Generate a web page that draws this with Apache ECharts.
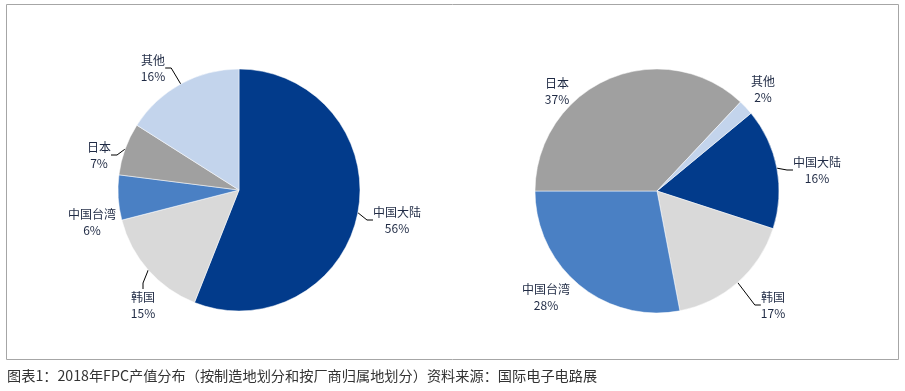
<!DOCTYPE html>
<html>
<head>
<meta charset="utf-8">
<script src="https://cdn.jsdelivr.net/npm/echarts@6/dist/echarts.min.js"></script>
<style>
html,body{margin:0;padding:0;background:#fff;}
#chart{width:905px;height:391px;}
</style>
</head>
<body>
<div id="chart"></div>
<script>
const categories = ['中国大陆', '韩国', '中国台湾', '日本', '其他'];
const byManufacturingSite = [56, 15, 6, 7, 16];
const byVendorOrigin = [16, 17, 28, 37, 2];
const sliceColors = ['#023B8B', '#D9D9D9', '#4A80C4', '#A0A0A0', '#C3D4EC'];
const caption = '图表1：2018年FPC产值分布（按制造地划分和按厂商归属地划分）资料来源：国际电子电路展';

const font = '"Noto Sans CJK SC", "Noto Sans", sans-serif';

// Label placement (layout only): offset of each label's centre from its pie's centre,
// and whether a leader line is drawn for it
const pieLayouts = [
  { center: [239, 190], radius: 121, startAngle: 90,
    labelOffsets: [[158, 30], [-96, 115], [-147, 32], [-140, -35], [-86, -122]],
    leaderLines: [true, true, false, true, true] },
  { center: [657, 191], radius: 122, startAngle: 39.6,
    labelOffsets: [[160, -21], [116, 114], [-111, 106], [-100, -100], [106, -102]],
    leaderLines: [true, true, false, false, false] }
];

function makeData(values, layout) {
  return categories.map((c, i) => ({
    name: c,
    value: values[i],
    itemStyle: { color: sliceColors[i] },
    labelLine: { show: layout.leaderLines[i] }
  }));
}

function pieSeries(values, layout) {
  return {
    type: 'pie',
    center: layout.center,
    radius: layout.radius,
    startAngle: layout.startAngle,
    clockwise: true,
    animation: false,
    data: makeData(values, layout),
    itemStyle: { borderColor: '#fff', borderWidth: 0.5 },
    label: {
      show: true,
      position: 'outside',
      formatter: '{n|{b}}\n{n|{d}%}',
      color: '#1f2a44',
      fontFamily: font,
      fontSize: 12,
      lineHeight: 16,
      rich: { n: { align: 'center', fontFamily: font, fontSize: 12, lineHeight: 16, color: '#1f2a44' } }
    },
    labelLine: {
      show: true,
      length: 6,
      length2: 6,
      lineStyle: { color: '#000', width: 1 }
    },
    labelLayout: function (p) {
      const off = layout.labelOffsets[p.dataIndex];
      return {
        x: layout.center[0] + off[0],
        y: layout.center[1] + off[1],
        align: 'center',
        verticalAlign: 'middle'
      };
    },
    emphasis: { disabled: true }
  };
}

const chart = echarts.init(document.getElementById('chart'), null, { renderer: 'canvas' });
chart.setOption({
  backgroundColor: '#fff',
  graphic: [
    { type: 'rect', shape: { x: 6.5, y: 4.5, width: 892, height: 355 }, style: { fill: 'none', stroke: '#a6a6a6', lineWidth: 1 }, z: -1 },
    { type: 'text', left: 7, top: 369, style: { text: caption, fill: '#333', font: '14.2px ' + font } }
  ],
  series: [
    pieSeries(byManufacturingSite, pieLayouts[0]),
    pieSeries(byVendorOrigin, pieLayouts[1])
  ]
});
</script>
</body>
</html>
